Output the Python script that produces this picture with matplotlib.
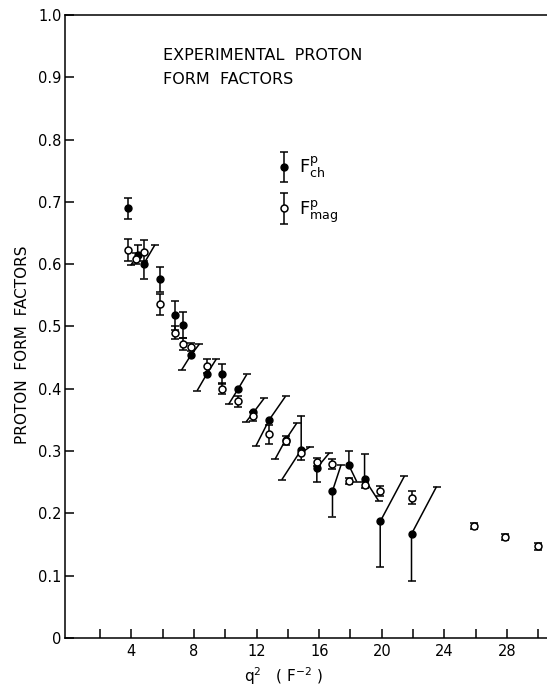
import numpy as np
import matplotlib
matplotlib.use("Agg")
import matplotlib.pyplot as plt
from matplotlib.container import ErrorbarContainer
from matplotlib.legend_handler import HandlerErrorbar

# F_ch^p (filled points); error bar ends given as (q2, F), slanted where q2 differs
ch_q2 = [3.8, 4.4, 4.8, 5.8, 6.8, 7.3, 7.8, 8.8, 9.8, 10.8, 11.8, 12.8, 13.85, 14.85,
         15.85, 16.85, 17.9, 18.9, 19.9, 21.9]
ch_F = [0.691, 0.615, 0.601, 0.576, 0.519, 0.503, 0.454, 0.423, 0.424, 0.399, 0.362, 0.350,
        0.318, 0.302, 0.273, 0.236, 0.277, 0.255, 0.187, 0.167]
ch_lo_q2 = [3.8, 3.95, 4.8, 5.8, 6.8, 7.3, 7.2, 8.2, 9.8, 10.21, 11.33, 11.95, 13.18, 13.61,
            15.85, 16.85, 18.4, 19.8, 19.9, 21.9]
ch_lo_F = [0.672, 0.598, 0.577, 0.556, 0.495, 0.481, 0.430, 0.397, 0.407, 0.375, 0.347, 0.308,
           0.287, 0.254, 0.250, 0.195, 0.251, 0.220, 0.114, 0.091]
ch_hi_q2 = [3.8, 4.4, 5.5, 5.8, 6.8, 7.3, 8.35, 9.43, 9.8, 11.37, 12.49, 13.85, 14.57, 14.85,
            16.65, 17.4, 17.9, 18.9, 21.45, 23.5]
ch_hi_F = [0.707, 0.631, 0.631, 0.596, 0.541, 0.524, 0.472, 0.448, 0.440, 0.423, 0.385, 0.388,
           0.345, 0.357, 0.297, 0.278, 0.300, 0.295, 0.260, 0.243]

# F_mag^p (open points)
mag_q2 = [3.8, 4.3, 4.8, 5.8, 6.8, 7.3, 7.8, 8.8, 9.8, 10.8, 11.8, 12.8, 13.85, 14.85,
          15.85, 16.85, 17.9, 18.9, 19.9, 21.9, 25.9, 27.9, 30.0]
mag_F = [0.622, 0.609, 0.620, 0.536, 0.490, 0.472, 0.467, 0.437, 0.400, 0.380, 0.357, 0.327,
         0.316, 0.297, 0.283, 0.280, 0.252, 0.246, 0.236, 0.225, 0.180, 0.162, 0.147]
mag_lo_q2 = list(mag_q2)
mag_lo_F = [0.605, 0.600, 0.605, 0.518, 0.480, 0.462, 0.460, 0.426, 0.392, 0.370, 0.349, 0.312,
            0.309, 0.285, 0.276, 0.272, 0.247, 0.241, 0.228, 0.215, 0.175, 0.157, 0.142]
mag_hi_q2 = [3.8, 4.3, 4.8, 5.8, 6.8, 7.3, 7.8, 8.8, 9.8, 10.8, 11.8, 12.8, 13.85, 15.42,
             15.85, 16.85, 17.9, 18.9, 19.9, 21.9, 25.9, 27.9, 30.0]
mag_hi_F = [0.640, 0.618, 0.639, 0.552, 0.500, 0.481, 0.474, 0.448, 0.409, 0.388, 0.362, 0.342,
            0.324, 0.307, 0.289, 0.287, 0.257, 0.251, 0.244, 0.236, 0.185, 0.167, 0.152]

x_ticks = list(range(2, 31, 2))
y_ticks = [0, 0.1, 0.2, 0.3, 0.4, 0.5, 0.6, 0.7, 0.8, 0.9, 1.0]
y_labels = ["0", "0.1", "0.2", "0.3", "0.4", "0.5", "0.6", "0.7", "0.8", "0.9", "1.0"]

LW = 1.1
CAP = 6
MS = 5

fig = plt.figure(figsize=(5.47, 6.88), dpi=100)
ax = fig.add_axes([0.119, 0.0727, 0.881, 0.9055])


def draw_bars(q2, F, lo_q2, lo_F, hi_q2, hi_F):
    for i in range(len(q2)):
        ax.plot([lo_q2[i], q2[i], hi_q2[i]], [lo_F[i], F[i], hi_F[i]],
                color="black", lw=LW, zorder=2, solid_capstyle="butt")
    ax.plot(lo_q2, lo_F, ls="none", marker="_", ms=CAP, mew=LW, color="black", zorder=2)
    ax.plot(hi_q2, hi_F, ls="none", marker="_", ms=CAP, mew=LW, color="black", zorder=2)


draw_bars(ch_q2, ch_F, ch_lo_q2, ch_lo_F, ch_hi_q2, ch_hi_F)
draw_bars(mag_q2, mag_F, mag_lo_q2, mag_lo_F, mag_hi_q2, mag_hi_F)
ax.plot(ch_q2, ch_F, ls="none", marker="o", ms=MS, color="black", zorder=3)
ax.plot(mag_q2, mag_F, ls="none", marker="o", ms=MS, mfc="white", mec="black",
        mew=1.1, zorder=4)

# legend entries (proxy artists, nothing drawn in the axes)
h_ch = ax.errorbar([np.nan], [np.nan], yerr=[0.02], fmt="o", color="black", ms=MS,
                   capsize=CAP / 2, elinewidth=LW, capthick=LW,
                   label=r"$\mathrm{F}^{\mathrm{p}}_{\mathrm{ch}}$")
h_mag = ax.errorbar([np.nan], [np.nan], yerr=[0.02], fmt="o", color="black", mfc="white",
                    mec="black", ms=MS, mew=1.1, capsize=CAP / 2, elinewidth=LW,
                    capthick=LW, label=r"$\mathrm{F}^{\mathrm{p}}_{\mathrm{mag}}$")
ax.legend(handles=[h_ch, h_mag], loc="upper left", bbox_to_anchor=(0.406, 0.802),
          frameon=False, fontsize=13, handlelength=0.8, handletextpad=0.4,
          labelspacing=1.0, borderaxespad=0.5,
          handler_map={ErrorbarContainer: HandlerErrorbar(yerr_size=0.85)})

ax.text(0.203, 0.935, "EXPERIMENTAL  PROTON", transform=ax.transAxes,
        va="center", ha="left", fontsize=11.5)
ax.text(0.203, 0.897, "FORM  FACTORS", transform=ax.transAxes,
        va="center", ha="left", fontsize=11.5)

ax.set_xlim(-0.24, 30.56)
ax.set_ylim(0, 1.0)
ax.set_xticks(x_ticks)
ax.set_xticklabels([str(t) if t % 4 == 0 and t < 30 else "" for t in x_ticks])
ax.set_yticks(y_ticks)
ax.set_yticklabels(y_labels)
ax.tick_params(direction="in", length=6.5, width=LW, labelsize=10.5)
ax.tick_params(axis="y", pad=2.5)
ax.tick_params(axis="x", pad=4)
ax.spines["right"].set_visible(False)
for s in ["left", "bottom", "top"]:
    ax.spines[s].set_linewidth(LW)

ax.set_xlabel(r"q$^2$   ( F$^{-2}$ )", fontsize=11)
ax.xaxis.set_label_coords(0.454, -0.062)
ax.xaxis.label.set_va("center")
ax.set_ylabel("PROTON  FORM  FACTORS", fontsize=11)
ax.yaxis.set_label_coords(-0.088, 0.471)
ax.yaxis.label.set_va("center")

fig.savefig("out.png", dpi=100)
